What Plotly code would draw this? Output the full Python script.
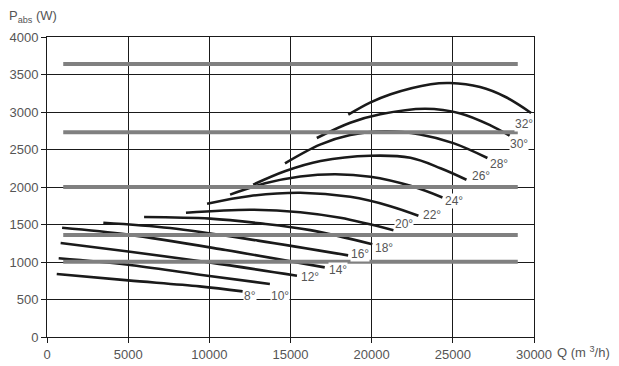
import plotly.graph_objects as go

# ---- data ----
angles = ["8°", "10°", "12°", "14°", "16°", "18°", "20°", "22°", "24°", "26°", "28°", "30°", "32°"]

curve_q = [
    [600, 5000, 9400, 12050],
    [720, 5000, 9420, 13730],
    [840, 5000, 10000, 15400],
    [930, 5000, 11000, 17110],
    [3470, 7580, 13000, 18550],
    [5980, 10050, 13130, 16220, 20040],
    [8560, 12510, 15600, 18070, 21340],
    [9860, 12510, 15600, 18680, 21150, 22880],
    [11280, 13440, 15600, 17760, 19920, 22390, 24360],
    [12700, 14690, 16850, 19920, 22390, 24240, 25840],
    [14660, 16820, 18680, 20830, 22990, 25030, 27130],
    [16620, 18680, 20530, 23310, 25470, 27320, 28500],
    [18560, 19900, 21170, 23640, 24830, 26680, 28220, 29820],
]
curve_p = [
    [840, 755, 675, 608],
    [1050, 964, 830, 707],
    [1253, 1141, 995, 817],
    [1457, 1365, 1160, 928],
    [1524, 1453, 1285, 1088],
    [1600, 1578, 1515, 1425, 1237],
    [1657, 1697, 1664, 1589, 1424],
    [1777, 1881, 1924, 1869, 1745, 1617],
    [1898, 2049, 2140, 2171, 2137, 2016, 1861],
    [2031, 2213, 2347, 2417, 2389, 2250, 2097],
    [2316, 2565, 2692, 2744, 2701, 2585, 2387],
    [2653, 2857, 2969, 3043, 2981, 2822, 2684],
    [2964, 3124, 3237, 3370, 3387, 3332, 3203, 2987],
]

label_q = [12490, 14330, 16230, 17950, 19270, 20750, 21990, 23700, 25060, 26760, 27870, 29100, 29380]
label_p = [551, 551, 804, 891, 1113, 1190, 1513, 1627, 1820, 2141, 2313, 2568, 2841]

grey_levels = [3640, 2730, 2000, 1360, 1005]
grey_q_range = [1000, 29000]

x_ticks = [0, 5000, 10000, 15000, 20000, 25000, 30000]
y_ticks = [0, 500, 1000, 1500, 2000, 2500, 3000, 3500, 4000]

FONT = "Liberation Sans, Arial, Helvetica, sans-serif"
TXT = "#555555"

fig = go.Figure()

for q, p in zip(curve_q, curve_p):
    fig.add_trace(go.Scatter(x=q, y=p, mode="lines",
                             line=dict(color="#1a1a1a", width=2.6, shape="spline", smoothing=1.0),
                             hoverinfo="skip", showlegend=False))

for lv in grey_levels:
    fig.add_trace(go.Scatter(x=grey_q_range, y=[lv, lv], mode="lines",
                             line=dict(color="#808080", width=4),
                             hoverinfo="skip", showlegend=False))

for name, lq, lp in zip(angles, label_q, label_p):
    fig.add_annotation(x=lq, y=lp, xref="x", yref="y", text=name, showarrow=False,
                       font=dict(family=FONT, size=12, color=TXT),
                       bgcolor="white", borderpad=0)

fig.add_annotation(xref="paper", yref="paper", x=1.043, y=-0.05,
                   xanchor="left", yanchor="middle", showarrow=False,
                   text="Q (m <sup>3</sup>/h)", font=dict(family=FONT, size=13, color=TXT))
fig.add_annotation(xref="paper", yref="paper", x=-0.083, y=1.067,
                   xanchor="left", yanchor="middle", showarrow=False,
                   text="P<sub>abs</sub> (W)", font=dict(family=FONT, size=13, color=TXT))

axis_common = dict(showgrid=True, gridcolor="#1a1a1a", gridwidth=1, zeroline=False,
                   showline=True, linecolor="#1a1a1a", linewidth=1, mirror=True,
                   ticks="outside", ticklen=5, tickcolor="#1a1a1a", tickwidth=1,
                   automargin=False,
                   tickfont=dict(family=FONT, size=13, color=TXT))

fig.update_xaxes(range=[0, 30000], tickvals=x_ticks, ticktext=[str(v) for v in x_ticks], **axis_common)
fig.update_yaxes(range=[0, 4000], tickvals=y_ticks, ticktext=[str(v) for v in y_ticks], **axis_common)

fig.update_layout(width=619, height=366,
                  margin=dict(l=47, r=85, t=37, b=29),
                  plot_bgcolor="white", paper_bgcolor="white",
                  font=dict(family=FONT, color=TXT))

fig.write_html("out.html", config={"displayModeBar": False})

# remove the default page margin so the figure sits at the window origin
with open("out.html", "r", encoding="utf-8") as f:
    html = f.read()
html = html.replace("<head>", "<head><style>html,body{margin:0;padding:0;overflow:hidden;}</style>", 1)
with open("out.html", "w", encoding="utf-8") as f:
    f.write(html)
